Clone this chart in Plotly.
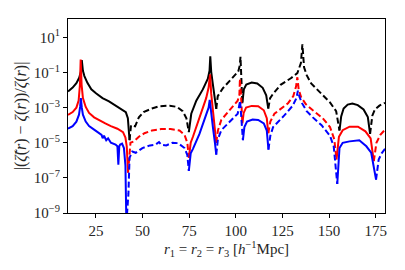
import plotly.graph_objects as go

# ---- data ----
black_r = [10.0, 12.5, 14.5, 16.0, 16.9, 17.4, 18.0, 18.8, 20.4, 22.5, 25.0, 28.5, 32.0, 35.5, 39.0, 41.0, 42.1, 43.0,
           43.8, 46.0, 48.0, 50.5, 55.0, 59.0, 64.5, 68.5, 71.5, 73.5, 74.8,
           76.1, 78.8, 82.3, 85.0, 85.9, 86.3, 86.8, 87.6, 88.6, 89.5,
           90.3, 93.0, 98.4, 101.3, 102.1, 102.5, 103.5,
           104.3, 105.6, 108.5, 111.5, 114.4, 116.3, 117.4,
           118.4, 119.8, 124.0, 129.5, 133.0, 134.9, 135.7, 136.6, 138.0, 140.4, 145.7, 150.5, 153.8, 155.6,
           156.5, 157.8, 160.0, 162.5, 165.4, 168.5, 170.8, 172.0,
           173.2, 174.6, 177.0, 180.0]
black_v = [8.3e-3, 1.4e-2, 2.5e-2, 5.0e-2, 1.1e-1, 5.1e-1, 1.26e-1, 6.3e-2, 2.6e-2, 1.1e-2, 6.6e-3, 3.5e-3, 2.3e-3, 1.3e-3, 7.9e-4, 5.6e-4, 2.5e-4, 1.4e-5,
           1.0e-4, 8.7e-5, 2.8e-4, 5.6e-4, 8.9e-4, 1.2e-3, 1.3e-3, 1.1e-3, 6.3e-4, 2.5e-4, 4.0e-5,
           4.5e-4, 2.5e-3, 1.1e-2, 4.5e-2, 1.26e-1, 8.5e-1, 1.1e-1, 2.5e-2, 5.0e-3, 8.5e-4,
           4.5e-3, 1.26e-2, 4.9e-2, 1.15e-1, 2.5e-1, 7.8e-1, 1.8e-3,
           1.1e-2, 2.1e-2, 2.7e-2, 2.4e-2, 1.35e-2, 5.0e-3, 8.9e-4,
           3.5e-3, 5.8e-3, 2.0e-2, 4.7e-2, 9.3e-2, 3.5e-1, 4.0, 2.0e-1, 7.1e-2, 2.4e-2, 6.3e-3, 2.0e-3, 6.3e-4, 5.0e-5,
           3.2e-4, 8.9e-4, 1.5e-3, 1.7e-3, 1.4e-3, 7.9e-4, 2.9e-4, 3.2e-5,
           3.5e-4, 7.9e-4, 1.3e-3, 1.9e-3]
black_flips = [43.0, 74.8, 89.5, 103.5, 117.4, 155.6, 172.0]

red_r = [10.0, 12.5, 14.5, 15.7, 16.4, 16.8, 17.3, 18.0, 19.5, 21.3, 24.0, 26.6, 30.0, 33.0, 36.5, 39.5, 40.8, 41.5, 42.2,
         42.9, 43.5, 45.4, 48.0, 51.0, 55.0, 60.0, 65.0, 69.8, 72.5, 74.0, 74.8,
         75.8, 77.0, 80.5, 84.1, 85.4, 86.2, 86.8, 87.8, 88.8, 89.5,
         90.4, 92.2, 97.5, 101.0, 101.9, 102.2, 102.8, 103.5,
         104.2, 105.5, 108.5, 112.0, 115.0, 116.6, 117.4,
         118.5, 120.7, 124.0, 128.0, 130.8, 132.3, 133.0, 133.7, 135.0, 137.5, 141.3, 146.6, 150.5, 152.8, 154.0,
         155.3, 157.3, 161.0, 165.5, 169.5, 172.3, 174.0,
         175.4, 177.5, 180.0]
red_v = [3.9e-4, 5.6e-4, 1.0e-3, 2.5e-3, 2.0e-2, 5.5e-1, 2.0e-2, 3.5e-3, 1.1e-3, 5.0e-4, 2.8e-4, 1.9e-4, 1.26e-4, 8.9e-5, 6.3e-5, 4.0e-5, 2.0e-5, 6.3e-6, 2.0e-7,
         3.2e-6, 1.0e-5, 1.2e-5, 2.2e-5, 3.5e-5, 5.0e-5, 6.0e-5, 6.0e-5, 5.0e-5, 2.8e-5, 1.0e-5, 1.4e-6,
         1.0e-5, 2.2e-5, 2.5e-4, 3.5e-3, 1.4e-2, 7.9e-2, 6.3e-3, 5.0e-4, 6.3e-5, 1.0e-5,
         5.0e-5, 2.0e-4, 1.0e-3, 2.5e-3, 5.0e-3, 4.5e-2, 5.0e-3, 1.26e-4,
         5.0e-4, 1.0e-3, 1.26e-3, 1.2e-3, 7.1e-4, 2.5e-4, 3.5e-5,
         1.6e-4, 4.5e-4, 8.9e-4, 1.8e-3, 4.5e-3, 1.6e-2, 5.4e-2, 1.1e-2, 4.0e-3, 1.6e-3, 7.1e-4, 2.5e-4, 7.9e-5, 1.6e-5, 1.1e-6,
         2.2e-5, 5.2e-5, 8.3e-5, 8.3e-5, 4.5e-5, 1.8e-5, 8.9e-7,
         1.0e-5, 2.8e-5, 5.6e-5]
red_flips = [42.2, 74.8, 89.5, 103.5, 117.4, 154.0, 174.0]

blue_r = [10.0, 12.5, 14.5, 15.9, 16.5, 16.9, 17.4, 18.0, 19.5, 21.3, 24.0, 26.6, 28.0, 28.6, 29.3, 30.5, 31.5, 33.0,
          35.5, 36.5, 37.0, 37.5, 38.0, 39.0, 40.0, 40.8, 41.3,
          42.4, 43.0, 44.5, 46.3, 49.9, 54.0, 57.0, 58.8, 60.0, 62.7, 66.0, 69.0, 72.5, 74.0, 74.8,
          75.8, 77.0, 80.5, 84.1, 85.4, 86.0, 86.7, 87.8, 88.8, 89.5,
          90.4, 92.2, 97.5, 101.0, 102.3, 103.0, 103.8,
          104.6, 106.0, 109.0, 112.0, 115.0, 116.6, 117.5,
          118.5, 120.0, 126.0, 130.5, 132.5, 133.3, 134.2, 135.5, 138.0, 141.3, 146.0, 150.5, 152.5, 154.4,
          155.6, 157.3, 161.0, 166.2, 170.0, 172.6, 175.2,
          176.6, 178.2, 180.0]
blue_v = [6.3e-5, 8.9e-5, 1.6e-4, 4.0e-4, 1.1e-3, 3.5e-3, 1.0e-3, 4.0e-4, 1.6e-4, 8.9e-5, 5.6e-5, 3.5e-5, 2.8e-5, 1.8e-5, 2.5e-5, 1.4e-5, 1.8e-5, 1.0e-5,
          7.9e-6, 6.3e-6, 5.6e-7, 6.3e-6, 7.9e-6, 8.9e-6, 5.0e-6, 5.0e-7, 2.5e-10,
          1.26e-8, 1.4e-6, 3.2e-6, 2.7e-6, 5.0e-6, 7.1e-6, 7.9e-6, 1.1e-5, 7.6e-6, 7.1e-6, 1.0e-5, 9.5e-6, 5.0e-6, 2.0e-6, 2.5e-7,
          2.5e-6, 4.5e-6, 3.2e-5, 4.0e-4, 1.0e-3, 2.8e-3, 5.0e-4, 6.3e-5, 1.0e-5, 2.1e-6,
          1.6e-5, 5.2e-5, 1.9e-4, 4.5e-4, 2.5e-3, 2.5e-4, 1.4e-5,
          7.9e-5, 1.6e-4, 2.1e-4, 2.0e-4, 1.26e-4, 5.0e-5, 4.1e-6,
          2.5e-5, 7.9e-5, 3.6e-4, 1.3e-3, 3.5e-3, 9.3e-3, 4.0e-3, 1.8e-3, 6.3e-4, 2.8e-4, 1.0e-4, 2.5e-5, 6.3e-6, 4.5e-8,
          5.0e-6, 1.0e-5, 1.2e-5, 1.4e-5, 6.3e-6, 2.7e-6, 7.9e-8,
          1.1e-6, 2.5e-6, 4.5e-6]
blue_flips = [41.3, 74.8, 89.5, 103.8, 117.5, 154.4, 175.2]

x_ticks = [25, 50, 75, 100, 125, 150, 175]
y_ticks = [1e-9, 1e-7, 1e-5, 1e-3, 1e-1, 1e1]
y_tick_text = ["10<sup>−9</sup>", "10<sup>−7</sup>", "10<sup>−5</sup>",
               "10<sup>−3</sup>", "10<sup>−1</sup>", "10<sup>1</sup>"]


def segments(r, v, flips):
    """Split a curve into runs of equal sign (solid = +, dashed = -)."""
    out = []
    cur_sign, xs, ys = None, [], []
    for i in range(len(r) - 1):
        n = sum(1 for f in flips if f <= r[i])
        s = 1 if n % 2 == 0 else -1
        if s != cur_sign:
            if xs:
                out.append((cur_sign, xs, ys))
            cur_sign, xs, ys = s, [r[i]], [v[i]]
        xs.append(r[i + 1])
        ys.append(v[i + 1])
    if xs:
        out.append((cur_sign, xs, ys))
    return out


fig = go.Figure()
for r, v, flips, col in [(black_r, black_v, black_flips, "black"),
                         (red_r, red_v, red_flips, "red"),
                         (blue_r, blue_v, blue_flips, "blue")]:
    for s, xs, ys in segments(r, v, flips):
        fig.add_trace(go.Scatter(
            x=xs, y=ys, mode="lines", showlegend=False,
            line=dict(color=col, width=2, dash="solid" if s > 0 else "6px,3px")))

font_family = "Liberation Serif"
txt_col = "#262626"
# page body has an 8px default margin, so the figure is sized and offset to compensate
fig.update_layout(
    width=389, height=254,
    margin=dict(l=60, r=11, t=10, b=46),
    paper_bgcolor="white", plot_bgcolor="white",
    font=dict(family=font_family, size=15, color=txt_col),
)
fig.update_xaxes(
    range=[10, 180], tickvals=x_ticks, ticks="outside", ticklen=4, tickcolor="black",
    tickfont=dict(family=font_family, size=15, color=txt_col),
    showline=True, linecolor="black", linewidth=1, mirror=True, showgrid=False, zeroline=False,
    title=dict(text="<i>r</i><sub>1</sub> = <i>r</i><sub>2</sub> = <i>r</i><sub>3</sub> [<i>h</i><sup>−1</sup>Mpc]",
               font=dict(family=font_family, size=15, color=txt_col), standoff=2),
)
fig.update_yaxes(
    type="log", range=[-9, 2.05], tickvals=y_ticks, ticktext=y_tick_text,
    ticks="outside", ticklen=4, tickcolor="black",
    tickfont=dict(family=font_family, size=15, color=txt_col),
    showline=True, linecolor="black", linewidth=1, mirror=True, showgrid=False, zeroline=False,
    title=dict(text="|(<i>ζ̃</i>(<i>r</i>) − <i>ζ</i>(<i>r</i>))/<i>ζ</i>(<i>r</i>)|",
               font=dict(family=font_family, size=16, color=txt_col), standoff=3),
)
fig.write_html("out.html")
